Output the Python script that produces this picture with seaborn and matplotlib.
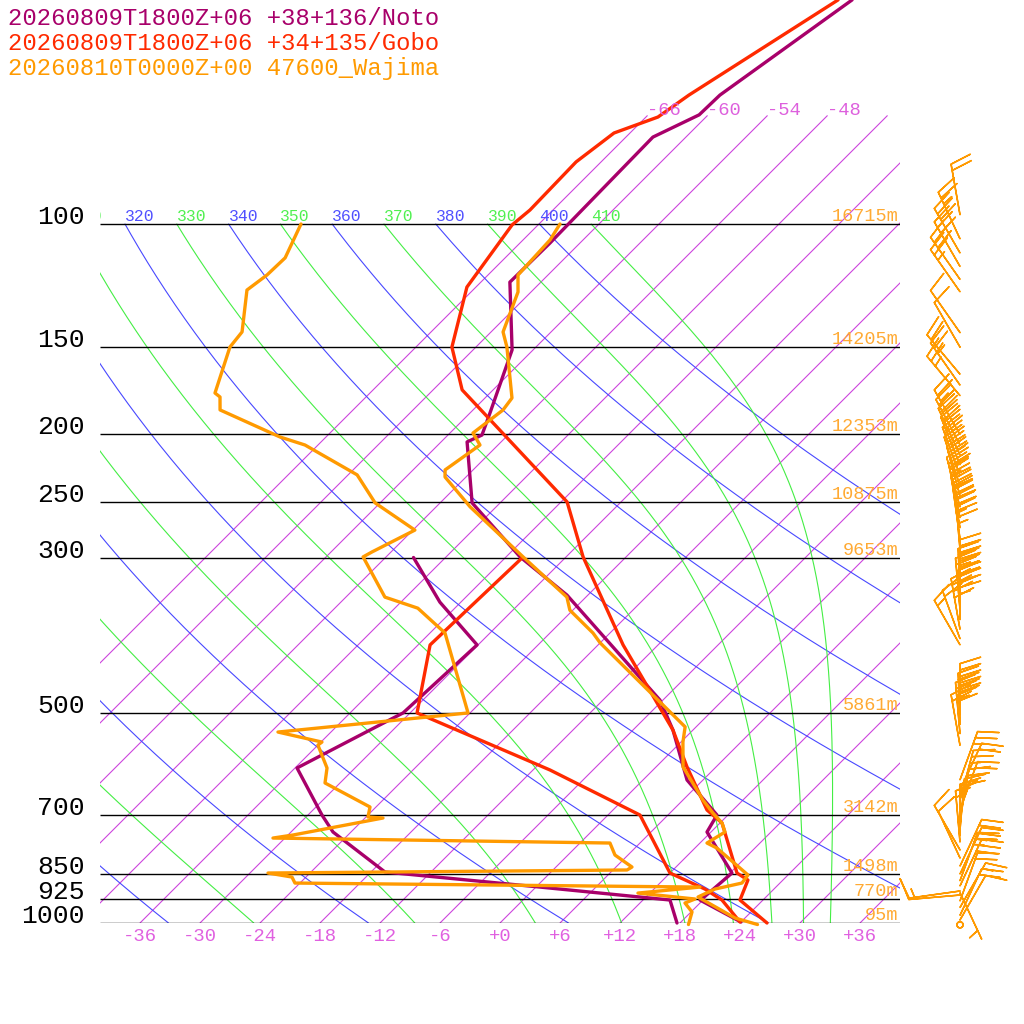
import numpy as np
import pandas as pd
import seaborn as sns
import matplotlib.pyplot as plt
from matplotlib import transforms

sns.set_style("white")
plt.rcParams['font.family'] = ['Liberation Mono', 'DejaVu Sans Mono']

# -----------------------------
# data
# -----------------------------
TITLES = ["20260809T1800Z+06 +38+136/Noto",
          "20260809T1800Z+06 +34+135/Gobo",
          "20260810T0000Z+00 47600_Wajima"]

# Noto
noto_t_p = [47.8, 65.4, 69.8, 75.1, 106.5, 121.1, 151.4, 186.4, 200.4, 205.0, 250.6, 299.4,
            339.5, 479.8, 529.6, 624.3, 700.7, 741.0, 848.2, 903.1, 927.1, 996.7]
noto_t = [-57.1, -60.8, -60.9, -63.3, -63.0, -63.1, -56.1, -52.0, -50.6, -51.4, -44.8, -34.6,
          -26.1, -6.3, -2.0, 4.4, 10.9, 11.6, 18.2, 17.9, 17.7, 24.0]
noto_td_p = [300, 347.5, 400.1, 500.6, 529.6, 600.1, 700.7, 741.0, 845.4, 888.4, 927.1, 1000]
noto_td = [-45.2, -38.1, -30.1, -30.7, -32.3, -35.8, -28.6, -25.8, -16.6, 0.4, 14.7, 17.7]

# Gobo
gobo_t_p = [47.8, 65.4, 70.3, 74.1, 81.5, 95.5, 100.3, 123.1, 150.0, 172.7, 249.8, 299.4,
            400.1, 529.6, 598.1, 689.2, 719.3, 848.2, 868.1, 927.1, 1000]
gobo_t = [-58.5, -63.9, -64.8, -67.6, -68.5, -68.3, -68.6, -66.9, -62.4, -57.1, -35.4, -28.3,
          -15.5, -2.0, 3.1, 9.4, 12.2, 18.7, 20.5, 21.7, 26.7]
gobo_td_p = [300, 400.1, 500.6, 604.1, 700.7, 848.2, 894.2, 927.1, 996.7]
gobo_td = [-34.3, -34.8, -29.3, -10.3, 3.2, 12.0, 17.1, 19.9, 23.9]

# Wajima
waj_t_p = [100, 105.4, 118.3, 125.1, 142.7, 150.0, 177.4, 184.5, 199.1, 207.1, 224.8, 230.1,
           253.9, 299.4, 341.8, 356.8, 384.7, 397.4, 524.1, 551.0, 598.1, 666.9, 696.1, 719.3,
           741.0, 768.4, 781.3, 853.8, 876.7, 894.2, 917.9, 983.7, 1005]
waj_t = [-63.9, -63.3, -63.0, -61.3, -58.8, -56.9, -51.3, -51.0, -51.7, -49.8, -50.8, -50.1,
         -44.6, -34.3, -25.9, -24.3, -19.7, -18.0, -1.1, 0.2, 2.7, 8.0, 10.3, 12.2,
         13.4, 12.7, 14.2, 20.0, 20.2, 18.1, 17.2, 23.0, 25.9]
waj_td_p = [100, 111.8, 118.3, 124.3, 142.7, 150.0, 174.5, 176.8, 184.5, 201.7, 207.1, 228.5,
            250.6, 274.1, 294.5, 299.4, 341.8, 354.5, 384.7, 500.6, 533.1, 551.0, 556.5, 600.1,
            630.5, 682.4, 705.3, 707.6, 748.4, 755.9, 768.4, 799.4, 831.6, 839.8, 848.2, 859.5,
            876.7, 888.4, 906.1, 924.0, 936.3, 964.4, 1005]
waj_td = [-89.8, -88.0, -88.1, -88.6, -84.9, -84.6, -81.5, -80.6, -79.3, -70.6, -67.3, -59.1,
          -54.5, -47.8, -49.9, -50.3, -44.1, -39.7, -34.5, -24.2, -41.3, -35.9, -36.0, -32.8,
          -31.5, -24.6, -23.8, -22.2, -29.5, -31.2, 3.0, 4.7, 7.6, 7.4, -28.2, -25.4,
          -24.5, 16.4, 10.8, 17.1, 16.5, 18.1, 19.0]

# Wajima winds (direction deg, speed kt)
wind_p = [97, 105, 110, 115, 120, 125, 143, 150, 164, 170, 176,
          200, 207, 214, 221, 229, 237, 245, 254, 263, 272, 282, 292,
          335, 345, 356, 368, 380, 392, 400,
          504, 520, 536, 557, 624, 645, 667, 689, 712, 736, 750, 766,
          786, 807, 829, 851, 870, 885, 900, 905, 912, 930, 950, 975, 990, 1006]
wind_dir = [350, 335, 330, 330, 325, 325, 325, 330, 320, 325, 320,
            330, 332, 335, 338, 340, 342, 345, 345, 348, 350, 352, 355,
            0, 358, 355, 0, 350, 340, 330,
            0, 358, 355, 350, 20, 25, 15, 20, 10, 5, 0, 355,
            330, 335, 25, 25, 20, 25, 262, 155, 265, 20, 30, 25, 30, 0]
wind_spd = [20, 25, 30, 30, 30, 25, 10, 10, 20, 25, 25,
            25, 30, 30, 35, 35, 40, 40, 35, 40, 40, 45, 45,
            45, 50, 50, 45, 40, 20, 15,
            50, 45, 40, 20, 25, 20, 25, 20, 25, 20, 15, 15,
            10, 10, 20, 25, 25, 30, 10, 5, 15, 20, 15, 20, 10, 0]

# chart furniture
P_LEVELS = [100, 150, 200, 250, 300, 500, 700, 850, 925, 1000]
HEIGHTS = ["16715m", "14205m", "12353m", "10875m", "9653m", "5861m", "3142m", "1498m", "770m", "95m"]
ISO_T = list(range(-66, 42, 6))
ISO_TOP = [-66, -60, -54, -48]
BOTTOM_T = list(range(-36, 42, 6))
DRY_THETA = list(range(240, 420, 20))
MOIST_THETA = list(range(250, 430, 20))

NOTO = "#a8006a"
GOBO = "#ff2a00"
WAJ = "#ff9a00"
ISO_COL = "#cc44dd"
DRY_COL = "#4848ff"
MOIST_COL = "#44ee44"

P_TOP = 1000 * 10 ** (-923 / 699)
SKEW = 69.9


def skew_x(t, p):
    return np.asarray(t, dtype=float) + SKEW * np.log10(1000.0 / np.asarray(p, dtype=float))


def dtdp(T, p):
    es = 6.112 * np.exp(17.67 * (T - 273.15) / (T - 29.65))
    rs = 0.622 * es / (p - es)
    return (287.04 * T + 2.501e6 * rs) / (p * (1005.7 + 2.501e6 ** 2 * rs * 0.622 / (287.04 * T ** 2)))


def moist_curve(theta_e):
    p = np.arange(100.0, 1001.0, 2.0)
    T = np.empty_like(p)
    T[0] = theta_e * 0.1 ** 0.2857
    for i in range(1, len(p)):
        h = p[i] - p[i - 1]
        k1 = dtdp(T[i - 1], p[i - 1])
        k2 = dtdp(T[i - 1] + 0.5 * h * k1, p[i - 1] + 0.5 * h)
        T[i] = T[i - 1] + h * k2
    return p, T - 273.15


fig = plt.figure(figsize=(10.24, 10.24), dpi=100)
ax = fig.add_axes([100 / 1024, 1 - 923 / 1024, 800 / 1024, 923 / 1024])
ax.set_yscale('log')
ax.set_xlim(-40, 40)
ax.set_ylim(1000, P_TOP)
ax.set_axis_off()

# isotherms
p_iso = np.array([1000.0, 70.0])
for t in ISO_T:
    ax.plot(skew_x([t, t], p_iso), p_iso, color=ISO_COL, lw=0.8)

# dry adiabats
p_ad = np.geomspace(1000, 100, 200)
for th in DRY_THETA:
    t = th * (p_ad / 1000.0) ** 0.2857 - 273.15
    ax.plot(skew_x(t, p_ad), p_ad, color=DRY_COL, lw=0.8)

# moist adiabats
for th in MOIST_THETA:
    pm, tm = moist_curve(th)
    ax.plot(skew_x(tm, pm), pm, color=MOIST_COL, lw=0.8)

# pressure lines
ax.hlines(P_LEVELS, -40, 40, color="black", lw=1.0)

# labels on the 100 hPa line (clipped to the plot area)
up3 = transforms.offset_copy(ax.transData, fig=fig, x=0, y=3, units='dots')
for thetas, col in [(DRY_THETA, "#5050ff"), (MOIST_THETA, "#50f050")]:
    for th in thetas:
        x = float(skew_x(th * 0.1 ** 0.2857 - 273.15, 100))
        if x < -43:
            continue
        ax.text(x, 100, str(th), transform=up3, color=col, fontsize=11.8,
                ha='left', va='baseline', clip_on=True, clip_box=ax.bbox)

for p, h in zip(P_LEVELS, HEIGHTS):
    ax.text(39.8, p, h, transform=up3, color="#ffaa33", fontsize=13.3,
            ha='right', va='baseline')
    ax.text(-41.5, p, str(p), color="black", fontsize=19, ha='right', va='baseline',
            clip_on=False)

for t in ISO_TOP:
    ax.annotate(str(t), xy=(skew_x(t, 70), 70), xytext=(0, 3.5), textcoords='offset points',
                color="#dd60dd", fontsize=13.5, ha='left', va='center')
for t in BOTTOM_T:
    lab = "+%d" % t if t >= 0 else str(t)
    ax.annotate(lab, xy=(t, 1000), xytext=(0, -10), textcoords='offset points',
                color="#e060e0", fontsize=13.6, ha='center', va='center', annotation_clip=False)

# soundings
soundings = [
    (noto_t_p, noto_t, NOTO), (noto_td_p, noto_td, NOTO),
    (gobo_t_p, gobo_t, GOBO), (gobo_td_p, gobo_td, GOBO),
    (waj_t_p, waj_t, WAJ), (waj_td_p, waj_td, WAJ),
]
for p, t, col in soundings:
    df = pd.DataFrame({"p": p, "x": skew_x(t, p)})
    sns.lineplot(data=df, x="x", y="p", sort=False, estimator=None, color=col,
                 lw=2.4, ax=ax, clip_on=False)

# wind barbs for Wajima
wd = np.radians(wind_dir)
u = -np.array(wind_spd) * np.sin(wd)
v = -np.array(wind_spd) * np.cos(wd)
ax.barbs(np.full(len(wind_p), 46.0), wind_p, u, v, length=8.6, color=WAJ, linewidth=1.1,
         clip_on=False, sizes=dict(emptybarb=0.06),
         barb_increments=dict(half=5, full=10, flag=1000))

ax.set_xlim(-40, 40)
ax.set_ylim(1000, P_TOP)

# title lines
for i, (txt, col) in enumerate(zip(TITLES, [NOTO, GOBO, WAJ])):
    fig.text(8 / 1024, 1 - (25 + 25 * i) / 1024, txt, color=col, fontsize=17.2,
             ha='left', va='baseline')

fig.savefig("out.png", dpi=100, facecolor="white")
